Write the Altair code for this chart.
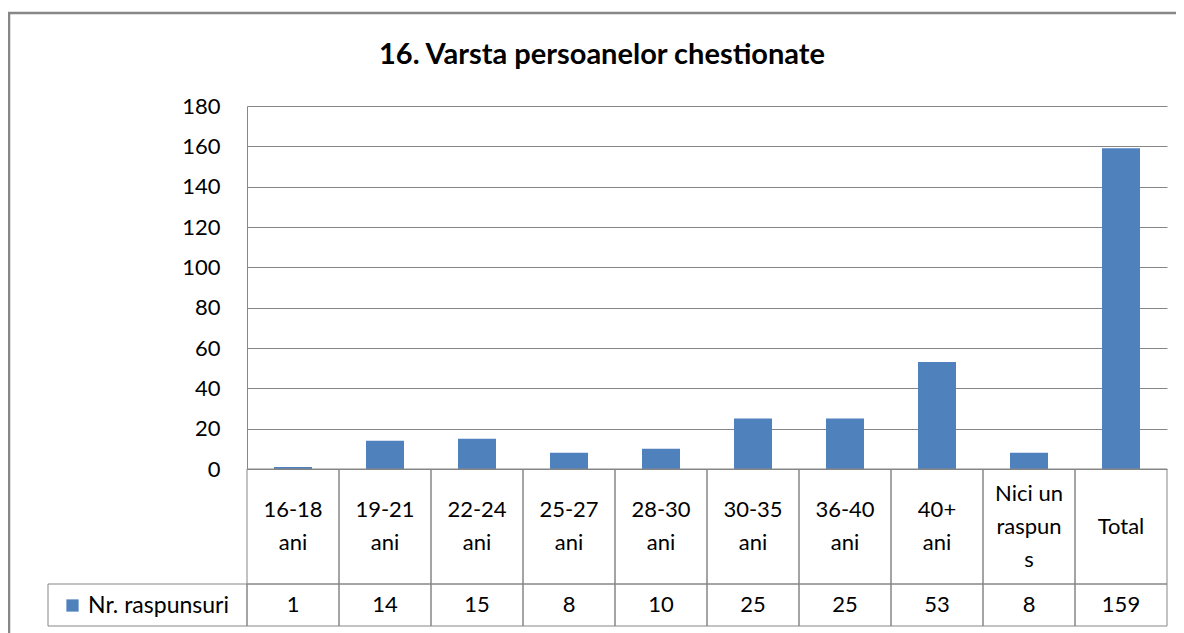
import altair as alt
import pandas as pd

# ---- data ----
categories = ["16-18\nani", "19-21\nani", "22-24\nani", "25-27\nani", "28-30\nani",
              "30-35\nani", "36-40\nani", "40+\nani", "Nici un\nraspun\ns", "Total"]
values = [1, 14, 15, 8, 10, 25, 25, 53, 8, 159]
series_name = "Nr. raspunsuri"
y_ticks = [0, 20, 40, 60, 80, 100, 120, 140, 160, 180]
title_text = "16. Varsta persoanelor chestionate"

df = pd.DataFrame({"cat": categories, "val": values, "series": [series_name] * len(values)})

# ---- styling ----
W, H = 920, 363
FONT = "Lato"
FS = 22
LH = 33
GRID = "#868686"
BLUE = "#4F81BD"
ROW1 = 115   # height of category-label row of the data table
ROW2 = 42    # height of value row of the data table

bar_x = alt.X("cat:N", sort=categories, axis=None,
              scale=alt.Scale(paddingInner=0.587, paddingOuter=0.2935))
tab_x = alt.X("cat:N", sort=categories, axis=None,
              scale=alt.Scale(paddingInner=0, paddingOuter=0))

bars = alt.Chart(df).mark_bar().encode(
    x=bar_x,
    y=alt.Y("val:Q", scale=alt.Scale(domain=[0, 180], nice=False),
            axis=alt.Axis(values=y_ticks, title=None, grid=True, gridColor=GRID,
                          gridWidth=1, domain=True, domainColor=GRID, domainWidth=1,
                          ticks=False, tickSize=0, labelPadding=27, labelFont=FONT,
                          labelFontSize=FS, labelColor="#000000")),
    color=alt.Color("series:N", scale=alt.Scale(range=[BLUE]),
                    legend=alt.Legend(title=None, orient="none", legendX=-186, legendY=488,
                                      symbolType="square", symbolSize=150,
                                      symbolStrokeWidth=0, labelFont=FONT,
                                      labelFontSize=23, labelColor="#000000",
                                      labelOffset=4, labelLimit=400)),
)

cells1 = alt.Chart(df).mark_rect(fillOpacity=0, stroke=GRID, strokeWidth=1).encode(
    x=tab_x, y=alt.value(H), y2=alt.value(H + ROW1))
cells2 = alt.Chart(df).mark_rect(fillOpacity=0, stroke=GRID, strokeWidth=1).encode(
    x=tab_x, y=alt.value(H + ROW1), y2=alt.value(H + ROW1 + ROW2))

# multi-line category labels, vertically centred in their cell
lab_text = alt.Chart(df).transform_calculate(
    nl="length(split(datum.cat, '\\n'))"
).transform_calculate(
    ypos=f"{H + ROW1 / 2} - (datum.nl - 1) * {LH / 2}"
).mark_text(font=FONT, fontSize=FS, color="#000000", align="center",
            baseline="middle", lineBreak="\n", lineHeight=LH).encode(
    x=tab_x, y=alt.Y("ypos:Q", scale=None, axis=None), text="cat:N")
val_text = alt.Chart(df).mark_text(font=FONT, fontSize=FS, color="#000000", align="center",
                                   baseline="middle").encode(
    x=tab_x, y=alt.value(H + ROW1 + ROW2 / 2), text="val:Q")

one = pd.DataFrame({"t": [title_text]})
legend_cell = alt.Chart(one).mark_rect(fillOpacity=0, stroke=GRID, strokeWidth=1).encode(
    x=alt.value(-199), x2=alt.value(0), y=alt.value(H + ROW1), y2=alt.value(H + ROW1 + ROW2))
frame = alt.Chart(one).mark_rect(fillOpacity=0, stroke="#878787", strokeWidth=2.5).encode(
    x=alt.value(-238), x2=alt.value(980), y=alt.value(-93), y2=alt.value(600))
title = alt.Chart(one).mark_text(font=FONT, fontSize=29, fontWeight="bold", color="#000000",
                                 align="center", baseline="middle").encode(
    x=alt.value(355), y=alt.value(-51), text="t:N")

chart = alt.layer(frame, title, bars, cells1, cells2, legend_cell, lab_text, val_text).resolve_scale(
    x="independent"
).properties(
    width=W, height=H,
    padding={"left": 239, "top": 98, "right": 9, "bottom": 164},
    autosize=alt.AutoSizeParams(type="none"),
    background="white",
).configure_view(stroke=None)

chart.save("out.html", embed_options={"renderer": "svg", "actions": False})
